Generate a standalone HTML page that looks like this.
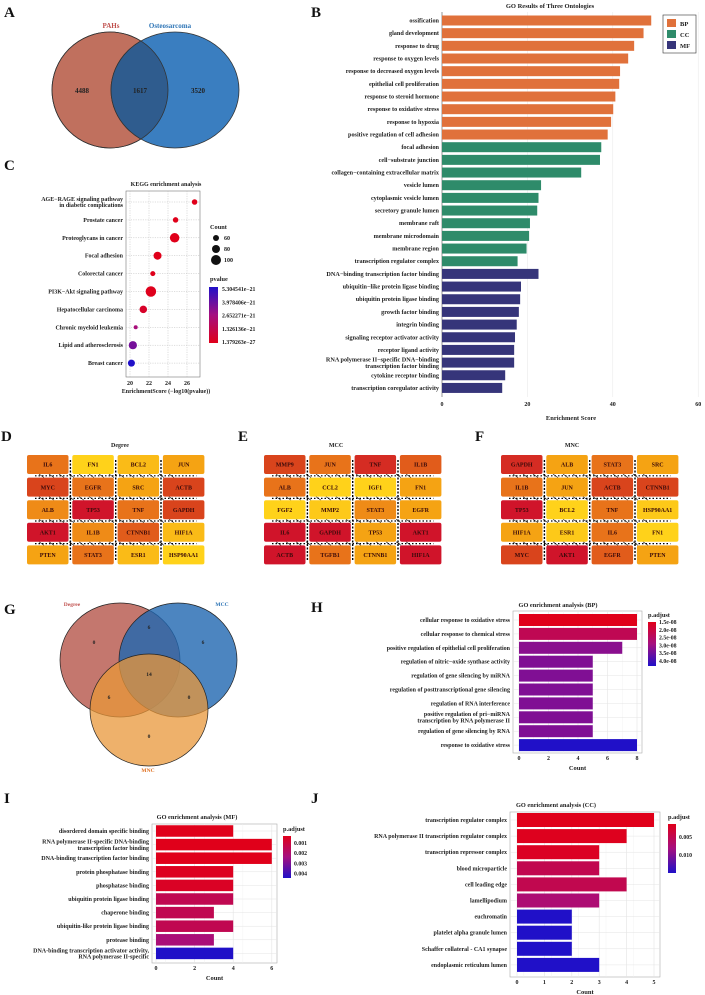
<!DOCTYPE html>
<html><head><meta charset="utf-8">
<style>
html,body{margin:0;padding:0;background:#fff;}
svg{display:block;font-family:"Liberation Serif",serif;font-weight:bold;}
</style></head>
<body>
<svg id="fig" width="705" height="995" viewBox="0 0 705 995" xmlns="http://www.w3.org/2000/svg"></svg>
<script>
// ---------- Panel B data ----------
const goTerms = ["ossification","gland development","response to drug","response to oxygen levels","response to decreased oxygen levels","epithelial cell proliferation","response to steroid hormone","response to oxidative stress","response to hypoxia","positive regulation of cell adhesion","focal adhesion","cell\u2212substrate junction","collagen\u2212containing extracellular matrix","vesicle lumen","cytoplasmic vesicle lumen","secretory granule lumen","membrane raft","membrane microdomain","membrane region","transcription regulator complex","DNA\u2212binding transcription factor binding","ubiquitin\u2212like protein ligase binding","ubiquitin protein ligase binding","growth factor binding","integrin binding","signaling receptor activator activity","receptor ligand activity","RNA polymerase II\u2212specific DNA\u2212binding|transcription factor binding","cytokine receptor binding","transcription coregulator activity"];
const goScores = [49,47.2,45,43.6,41.7,41.5,40.6,40.1,39.6,38.8,37.3,37,32.6,23.2,22.6,22.3,20.6,20.4,19.8,17.7,22.6,18.5,18.3,18,17.5,17.1,16.9,16.9,14.8,14.1];
const goOnt = ["BP","BP","BP","BP","BP","BP","BP","BP","BP","BP","CC","CC","CC","CC","CC","CC","CC","CC","CC","CC","MF","MF","MF","MF","MF","MF","MF","MF","MF","MF"];
const goTicks = [0,20,40,60];
// ---------- Panel C data ----------
const keggTerms = ["AGE\u2212RAGE signaling pathway|in diabetic complications","Prostate cancer","Proteoglycans in cancer","Focal adhesion","Colorectal cancer","PI3K\u2212Akt signaling pathway","Hepatocellular carcinoma","Chronic myeloid leukemia","Lipid and atherosclerosis","Breast cancer"];
const keggScore = [26.8,24.8,24.7,22.9,22.4,22.2,21.4,20.6,20.3,20.15];
const keggCount = [55,55,95,80,50,105,75,40,82,70];
const keggP = [1.4e-27,4e-25,4e-25,1e-23,3e-23,5e-23,4e-22,2.5e-21,3.6e-21,5.3e-21];
const keggTicks = [20,22,24,26];
const countLegend = [60,80,100];
const pLegendLabels = ["5.304541e\u221221","3.978406e\u221221","2.652271e\u221221","1.326136e\u221221","1.379263e\u221227"];
// ---------- Panels D/E/F data ----------
const degreeGenes = ["IL6","FN1","BCL2","JUN","MYC","EGFR","SRC","ACTB","ALB","TP53","TNF","GAPDH","AKT1","IL1B","CTNNB1","HIF1A","PTEN","STAT3","ESR1","HSP90AA1"];
const degreeRank = [2,4,3.5,3,1,2,3,1,2.5,0,2,1,0,2.5,1.5,3.5,3,2,3.5,4];
const mccGenes = ["MMP9","JUN","TNF","IL1B","ALB","CCL2","IGF1","FN1","FGF2","MMP2","STAT3","EGFR","IL6","GAPDH","TP53","AKT1","ACTB","TGFB1","CTNNB1","HIF1A"];
const mccRank = [1,2,0.5,1.5,2,4,4,3,4,3.8,2.5,3,0,0,3,0,0,2,3,0];
const mncGenes = ["GAPDH","ALB","STAT3","SRC","IL1B","JUN","ACTB","CTNNB1","TP53","BCL2","TNF","HSP90AA1","HIF1A","ESR1","IL6","FN1","MYC","AKT1","EGFR","PTEN"];
const mncRank = [0.5,3,2,3,2,3,1,1,0,4,2,3.8,3,3.8,2,4,1,0,1.5,3];
// ---------- Panel H data ----------
const bpTerms = ["cellular response to oxidative stress","cellular response to chemical stress","positive regulation of epithelial cell proliferation","regulation of nitric\u2212oxide synthase activity","regulation of gene silencing by miRNA","regulation of posttranscriptional gene silencing","regulation of RNA interference","positive regulation of pri\u2212miRNA|transcription by RNA polymerase II","regulation of gene silencing by RNA","response to oxidative stress"];
const bpCount = [8,8,7,5,5,5,5,5,5,8];
const bpPadj = [1.5e-8,2.2e-8,3.0e-8,3.1e-8,3.1e-8,3.1e-8,3.1e-8,3.1e-8,3.1e-8,4.0e-8];
const bpTicks = [0,2,4,6,8];
const bpLegend = ["1.5e-08","2.0e-08","2.5e-08","3.0e-08","3.5e-08","4.0e-08"];
// ---------- Panel I data ----------
const mfTerms = ["disordered domain specific binding","RNA polymerase II-specific DNA-binding|transcription factor binding","DNA-binding transcription factor binding","protein phosphatase binding","phosphatase binding","ubiquitin protein ligase binding","chaperone binding","ubiquitin-like protein ligase binding","protease binding","DNA-binding transcription activator activity,|RNA polymerase II-specific"];
const mfCount = [4,6,6,4,4,4,3,4,3,4];
const mfPadj = [0.0005,0.0005,0.0005,0.0006,0.0007,0.0015,0.0015,0.0015,0.0022,0.0042];
const mfTicks = [0,2,4,6];
const mfLegend = ["0.001","0.002","0.003","0.004"];
// ---------- Panel J data ----------
const ccTerms = ["transcription regulator complex","RNA polymerase II transcription regulator complex","transcription repressor complex","blood microparticle","cell leading edge","lamellipodium","euchromatin","platelet alpha granule lumen","Schaffer collateral - CA1 synapse","endoplasmic reticulum lumen"];
const ccCount = [5,4,3,3,4,3,2,2,2,3];
const ccPadj = [0.001,0.0012,0.0015,0.004,0.004,0.006,0.0125,0.0125,0.0125,0.0125];
const ccTicks = [0,1,2,3,4,5];
const ccLegend = ["0.005","0.010"];

const NS = "http://www.w3.org/2000/svg";
const svg = document.getElementById("fig");
function mk(tag, attrs, parent){
  const e = document.createElementNS(NS, tag);
  for (const k in attrs) e.setAttribute(k, attrs[k]);
  (parent || svg).appendChild(e);
  return e;
}
function txt(str, x, y, size, anchor, fill, parent){
  const lines = String(str).split("|");
  const e = mk("text", {x:x, y:y, "font-size":size, "text-anchor":anchor||"start", fill:fill||"#222"}, parent);
  if (lines.length === 1){ e.textContent = str; }
  else {
    lines.forEach((l,i)=>{
      const t = mk("tspan", {x:x, y: y + (i - (lines.length-1)/2) * size*1.05}, e);
      t.textContent = l;
    });
  }
  return e;
}
function hex(c){return [parseInt(c.slice(1,3),16),parseInt(c.slice(3,5),16),parseInt(c.slice(5,7),16)];}
function lerpColor(stops, t){
  t = Math.max(0, Math.min(1, t));
  const n = stops.length - 1, i = Math.min(n-1, Math.floor(t*n)), f = t*n - i;
  const a = hex(stops[i]), b = hex(stops[i+1]);
  return "rgb(" + a.map((v,k)=>Math.round(v + (b[k]-v)*f)).join(",") + ")";
}
const PSTOPS = ["#E0001A","#A50F80","#2010C8"];

function panelLetter(l, x, y){
  const e = txt(l, x, y, 15, "start", "#111");
  
  
}

// ================= Panel A =================
panelLetter("A", 4, 17);
{
  const g = mk("g", {});
  
  
  const c1 = mk("ellipse", {cx:110, cy:90, rx:58, ry:58, fill:"#C0705E", stroke:"#333", "stroke-width":0.8}, g);
  
  
  const c2 = mk("ellipse", {cx:175, cy:90, rx:64, ry:58, fill:"#3A7EC0", stroke:"#333", "stroke-width":0.8}, g);
  
  
  mk("clipPath", {id:"clipA"}, g);
  const cp = g.querySelector("#clipA");
  mk("ellipse", {cx:110, cy:90, rx:58, ry:58}, cp);
  const ov = mk("ellipse", {cx:175, cy:90, rx:64, ry:58, fill:"#2F5C8E", "clip-path":"url(#clipA)", stroke:"#333", "stroke-width":0.8}, g);
  
  
  mk("ellipse", {cx:110, cy:90, rx:58, ry:58, fill:"none", stroke:"#333", "stroke-width":0.8}, g);
  let t = txt("PAHs", 111, 28, 7, "middle", "#C0504D", g);
  
  
  t = txt("Osteosarcoma", 170, 28, 7, "middle", "#2E75B6", g);
  
  
  txt("4488", 82, 93, 7, "middle", "#222", g);
  txt("1617", 140, 93, 7, "middle", "#222", g);
  txt("3520", 198, 93, 7, "middle", "#222", g);
}

// ================= Panel B =================
panelLetter("B", 311, 17);
{
  const g = mk("g", {});
  
  
  const x0 = 442, kx = 4.27;
  const xB = v => x0 + v*kx;
  const yB = i => 20.5 + i*12.67;
  const cols = {BP:"#E0713B", CC:"#2E8B6A", MF:"#36357A"};
  let t = txt("GO Results of Three Ontologies", 550, 8, 6.5, "middle", "#222", g);
  
  
  goTicks.forEach(v=>{
    mk("line", {x1:xB(v), x2:xB(v), y1:12, y2:397, stroke:"#e6e6e6", "stroke-width":0.5}, g);
    const tk = txt(v, xB(v), 406, 6, "middle", "#222", g);
    
    
  });
  mk("line", {x1:x0, x2:x0, y1:12, y2:397, stroke:"#555", "stroke-width":0.6}, g);
  goTerms.forEach((term,i)=>{
    const r = mk("rect", {x:x0, y:yB(i)-5, width:xB(goScores[i])-x0, height:10, fill:cols[goOnt[i]]}, g);
    
    
    const l = txt(term, x0-3, yB(i)+2, 6.2, "end", "#222", g);
    
    
  });
  t = txt("Enrichment Score", 571, 420, 6.5, "middle", "#222", g);
  
  
  const lg = mk("g", {}, g);
  
  
  mk("rect", {x:663, y:15, width:33, height:38, fill:"#fff", stroke:"#333", "stroke-width":0.6}, lg);
  ["BP","CC","MF"].forEach((k,i)=>{
    const sw = mk("rect", {x:667, y:19+i*11, width:9, height:8, fill:cols[k]}, lg);
    
    
    txt(k, 680, 26+i*11, 6.5, "start", "#222", lg);
  });
}

// ================= Panel C =================
panelLetter("C", 4, 170);
{
  const g = mk("g", {});
  
  
  const xC = v => 130 + (v-20)*9.5;
  const yC = i => 202 + i*17.9;
  const rC = c => 1 + (c-20)*0.05;
  let t = txt("KEGG enrichment analysis", 166, 186, 6, "middle", "#222", g);
  
  
  mk("rect", {x:126, y:191, width:74, height:186, fill:"#fff", stroke:"#777", "stroke-width":0.6}, g);
  keggTicks.forEach(v=>{
    mk("line", {x1:xC(v), x2:xC(v), y1:191, y2:377, stroke:"#bbb", "stroke-width":0.5, "stroke-dasharray":"1.2,1.2"}, g);
    const tk = txt(v, xC(v), 385, 6, "middle", "#222", g);
    
    
  });
  const pMax = 5.304541e-21;
  keggTerms.forEach((term,i)=>{
    mk("line", {x1:126, x2:200, y1:yC(i), y2:yC(i), stroke:"#bbb", "stroke-width":0.5, "stroke-dasharray":"1.2,1.2"}, g);
    const c = mk("circle", {cx:xC(keggScore[i]), cy:yC(i), r:rC(keggCount[i]), fill:lerpColor(PSTOPS, keggP[i]/pMax)}, g);
    
    
    const l = txt(term, 123, yC(i)+2, 6, "end", "#222", g);
    
    
  });
  t = txt("EnrichmentScore (\u2212log10(pvalue))", 166, 393, 6, "middle", "#222", g);
  
  
  const lg = mk("g", {}, g);
  
  
  txt("Count", 210, 229, 6.3, "start", "#222", lg);
  countLegend.forEach((c,i)=>{
    mk("circle", {cx:216, cy:238+i*11, r:rC(c), fill:"#111"}, lg);
    txt(c, 224, 240+i*11, 6, "start", "#222", lg);
  });
  const lp = mk("g", {}, g);
  
  
  txt("pvalue", 210, 281, 6.3, "start", "#222", lp);
  const defs = mk("defs", {}, lp);
  const gr = mk("linearGradient", {id:"gradC", x1:0, y1:0, x2:0, y2:1}, defs);
  mk("stop", {offset:"0", "stop-color":"#2010C8"}, gr);
  mk("stop", {offset:"0.5", "stop-color":"#A50F80"}, gr);
  mk("stop", {offset:"1", "stop-color":"#E0001A"}, gr);
  mk("rect", {x:209, y:287, width:9, height:56, fill:"url(#gradC)"}, lp);
  pLegendLabels.forEach((s,i)=>txt(s, 222, 291+i*13.3, 5.8, "start", "#222", lp));
}

// ================= Panels D/E/F =================
const HEAT = ["#D0142A","#D9441C","#E8731A","#F5A313","#FFD21A"];
function grid(letter, title, genes, ranks, x0, y0, tx){
  panelLetter(letter, x0-26, 441);
  const g = mk("g", {});
  
  
  const t = txt(title, tx, 447, 6, "middle", "#222", g);
  
  
  const cw = 41.5, ch = 19, dx = 45.3, dy = 22.6;
  for (let c=1;c<4;c++){
    const x = x0 + c*dx - (dx-cw)/2;
    mk("line", {x1:x, x2:x, y1:y0+5, y2:y0+4*dy+ch-3, stroke:"#000", "stroke-width":1.4, "stroke-dasharray":"2,1.5"}, g);
  }
  for (let r=1;r<5;r++){
    const y = y0 + r*dy - (dy-ch)/2;
    mk("line", {x1:x0+8, x2:x0+3*dx+cw-8, y1:y, y2:y, stroke:"#000", "stroke-width":1.2, "stroke-dasharray":"1.5,2"}, g);
    for (let k=0;k<14;k++){
      const xx = x0 + 12 + k*10;
      mk("line", {x1:xx, x2:xx+5, y1:y-1.8, y2:y+1.8, stroke:"#111", "stroke-width":0.6}, g);
    }
  }
  genes.forEach((gname,i)=>{
    const c = i%4, r = Math.floor(i/4);
    const rect = mk("rect", {x:x0+c*dx, y:y0+r*dy, width:cw, height:ch, rx:2, fill:lerpColor(HEAT, ranks[i]/4)}, g);
    
    
    txt(gname, x0+c*dx+cw/2, y0+r*dy+ch/2+2.2, 6, "middle", "#3a0a0a", g);
  });
}
grid("D", "Degree", degreeGenes, degreeRank, 27, 455, 120);
grid("E", "MCC", mccGenes, mccRank, 264, 455, 336);
grid("F", "MNC", mncGenes, mncRank, 501, 455, 572);

// ================= Panel G =================
panelLetter("G", 4, 614);
{
  const g = mk("g", {});
  
  
  const a = mk("ellipse", {cx:120, cy:660, rx:60, ry:57, fill:"#B5554A", "fill-opacity":0.8, stroke:"#222", "stroke-width":0.7}, g);
  
  
  const b = mk("ellipse", {cx:178, cy:660, rx:59, ry:57, fill:"#1F66B0", "fill-opacity":0.8, stroke:"#222", "stroke-width":0.7}, g);
  
  
  const c = mk("ellipse", {cx:149, cy:710, rx:59, ry:56, fill:"#E8973A", "fill-opacity":0.75, stroke:"#222", "stroke-width":0.7}, g);
  
  
  let t = txt("Degree", 72, 606, 5.5, "middle", "#C0504D", g);
  
  
  t = txt("MCC", 222, 606, 5.5, "middle", "#2E75B6", g);
  
  
  t = txt("MNC", 148, 772, 5.5, "middle", "#E07020", g);
  
  
  [["0",94,644],["6",149,629],["6",203,644],["14",149,676],["6",109,699],["0",189,699],["0",149,738]].forEach(d=>txt(d[0],d[1],d[2],5.5,"middle","#222",g));
}

// ================= Bar panels H/I/J =================
function barPanel(opt){
  panelLetter(opt.letter, opt.lx, opt.ly);
  const g = mk("g", {});
  
  
  const xs = v => opt.x0 + v*opt.kx;
  const ys = i => opt.yFirst + i*opt.dy;
  mk("rect", {x:opt.bx, y:opt.by, width:opt.bw, height:opt.bh, fill:"#fff", stroke:"#aaa", "stroke-width":0.6}, g);
  opt.ticks.forEach(v=>{
    mk("line", {x1:xs(v), x2:xs(v), y1:opt.by, y2:opt.by+opt.bh, stroke:"#e4e4e4", "stroke-width":0.6}, g);
    if (v < opt.ticks[opt.ticks.length-1]) mk("line", {x1:xs(v+opt.step/2), x2:xs(v+opt.step/2), y1:opt.by, y2:opt.by+opt.bh, stroke:"#f0f0f0", "stroke-width":0.4}, g);
    const tk = txt(v, xs(v), opt.by+opt.bh+7, 6, "middle", "#222", g);
    
    
  });
  const pmin = opt.pmin, pmax = opt.pmax;
  opt.terms.forEach((term,i)=>{
    mk("line", {x1:opt.bx, x2:opt.bx+opt.bw, y1:ys(i), y2:ys(i), stroke:"#e4e4e4", "stroke-width":0.5}, g);
    const r = mk("rect", {x:opt.x0, y:ys(i)-opt.barH/2, width:xs(opt.counts[i])-opt.x0, height:opt.barH, fill:lerpColor(PSTOPS, (opt.padj[i]-pmin)/(pmax-pmin))}, g);
    
    
    const l = txt(term, opt.bx-3, ys(i)+2, 6, "end", "#222", g);
    
    
  });
  let t = txt(opt.title, opt.tx, opt.ty, 6.3, "middle", "#222", g);
  
  
  t = txt("Count", opt.bx+opt.bw/2, opt.by+opt.bh+17, 6.5, "middle", "#222", g);
  
  
  const lg = mk("g", {}, g);
  
  
  txt("p.adjust", opt.lgx, opt.lgy, 6.3, "start", "#222", lg);
  const defs = mk("defs", {}, lg);
  const gr = mk("linearGradient", {id:"grad"+opt.letter, x1:0, y1:0, x2:0, y2:1}, defs);
  mk("stop", {offset:"0", "stop-color":"#E0001A"}, gr);
  mk("stop", {offset:"0.5", "stop-color":"#A50F80"}, gr);
  mk("stop", {offset:"1", "stop-color":"#2010C8"}, gr);
  mk("rect", {x:opt.lgx, y:opt.lgy+5, width:8, height:opt.lgh, fill:"url(#grad"+opt.letter+")"}, lg);
  opt.legend.forEach((s,i)=>txt(s, opt.lgx+11, opt.lgLabY + i*opt.lgStep, 5.8, "start", "#222", lg));
}
barPanel({letter:"H", lx:311, ly:612, name:"go-bp-chart", terms:bpTerms, counts:bpCount, padj:bpPadj, ticks:bpTicks, step:2,
  x0:519, kx:14.75, yFirst:620, dy:13.9, barH:12, bx:513, by:611, bw:129, bh:142, title:"GO enrichment analysis (BP)", tx:558, ty:607,
  pmin:1.5e-8, pmax:4.0e-8, legend:bpLegend, lgx:648, lgy:617, lgh:44, lgLabY:624, lgStep:7.8});
barPanel({letter:"I", lx:4, ly:803, name:"go-mf-chart", terms:mfTerms, counts:mfCount, padj:mfPadj, ticks:mfTicks, step:1,
  x0:156, kx:19.3, yFirst:831, dy:13.6, barH:11.5, bx:152, by:824, bw:125, bh:139, title:"GO enrichment analysis (MF)", tx:197, ty:819,
  pmin:0.0005, pmax:0.0042, legend:mfLegend, lgx:283, lgy:831, lgh:42, lgLabY:845, lgStep:10.2});
barPanel({letter:"J", lx:311, ly:803, name:"go-cc-chart", terms:ccTerms, counts:ccCount, padj:ccPadj, ticks:ccTicks, step:0.5,
  x0:517, kx:27.4, yFirst:820, dy:16.1, barH:14, bx:510, by:812, bw:150, bh:165, title:"GO enrichment analysis (CC)", tx:556, ty:807,
  pmin:0.001, pmax:0.0125, legend:ccLegend, lgx:668, lgy:819, lgh:49, lgLabY:839, lgStep:18});
</script>
</body></html>
